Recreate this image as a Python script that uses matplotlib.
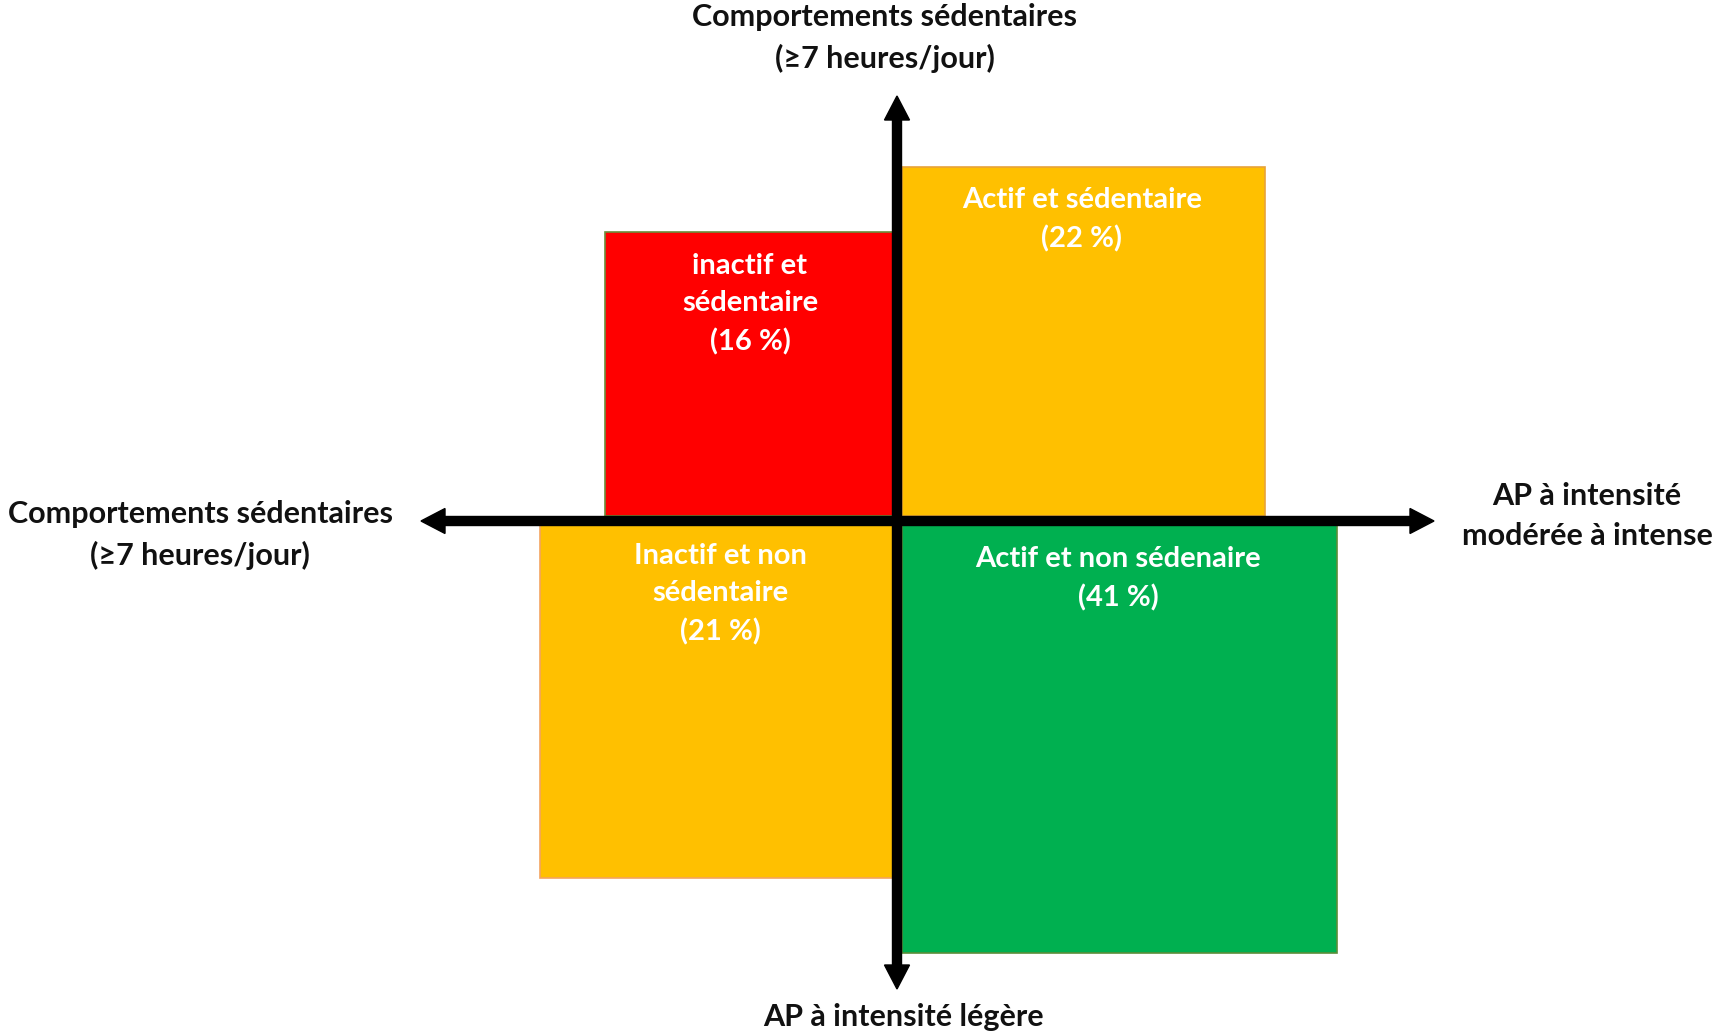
import matplotlib.pyplot as plt
from matplotlib.patches import Rectangle

# quadrant groups (share of people) and their box extents around the origin
labels = ["inactif et\nsédentaire\n(16 %)",
          "Actif et sédentaire\n(22 %)",
          "Inactif et non\nsédentaire\n(21 %)",
          "Actif et non sédenaire\n(41 %)"]
shares = [16, 22, 21, 41]
x_left = [-292, 5, -357, 5]
x_right = [-4, 368, -4, 440]
y_low = [5, 5, -357, -432]
y_high = [289, 354, -4, -4]
fills = ["#FF0000", "#FFC000", "#FFC000", "#00B050"]
edges = ["#6B8E3A", "#E8A33A", "#F4A460", "#5A8F3A"]
label_xy = [(-147, 217), (185, 301), (-177, -73), (221, -58)]

axis_titles = ["Comportements sédentaires\n(≥7 heures/jour)",
               "Comportements sédentaires\n(≥7 heures/jour)",
               "AP à intensité\nmodérée à intense",
               "AP à intensité légère"]
title_xy = [(-12, 483), (-697, -14), (690, 5), (6, -496)]

head_font = ["Lato", "DejaVu Sans"]
box_font = ["Lato", "DejaVu Sans"]

fig = plt.figure(figsize=(17.14, 10.36), dpi=100)
ax = fig.add_axes([0, 0, 1, 1])
ax.set_xlim(-897, 817)
ax.set_ylim(-515, 521)
ax.axis("off")

for i in range(len(shares)):
    ax.add_patch(Rectangle((x_left[i], y_low[i]), x_right[i] - x_left[i],
                           y_high[i] - y_low[i], facecolor=fills[i],
                           edgecolor=edges[i], lw=1.2, zorder=1))
    ax.text(label_xy[i][0], label_xy[i][1], labels[i], color="white",
            fontsize=21, fontweight="bold", family=box_font,
            ha="center", va="center", linespacing=1.55, zorder=3)

# the two axes, each drawn as a pair of arrows out from the origin
arrow_kw = dict(width=9, head_width=25, head_length=24,
                length_includes_head=True, color="black", zorder=2)
ax.arrow(0, 0, 0, 425, **arrow_kw)
ax.arrow(0, 0, 0, -468, **arrow_kw)
ax.arrow(0, 0, -476, 0, **arrow_kw)
ax.arrow(0, 0, 537, 0, **arrow_kw)

for t, (x, y) in zip(axis_titles, title_xy):
    ax.text(x, y, t, color="#111111", fontsize=22, fontweight="bold",
            family=head_font, ha="center", va="center", linespacing=1.52,
            zorder=3)

fig.savefig("out.png", dpi=100, facecolor="white")
